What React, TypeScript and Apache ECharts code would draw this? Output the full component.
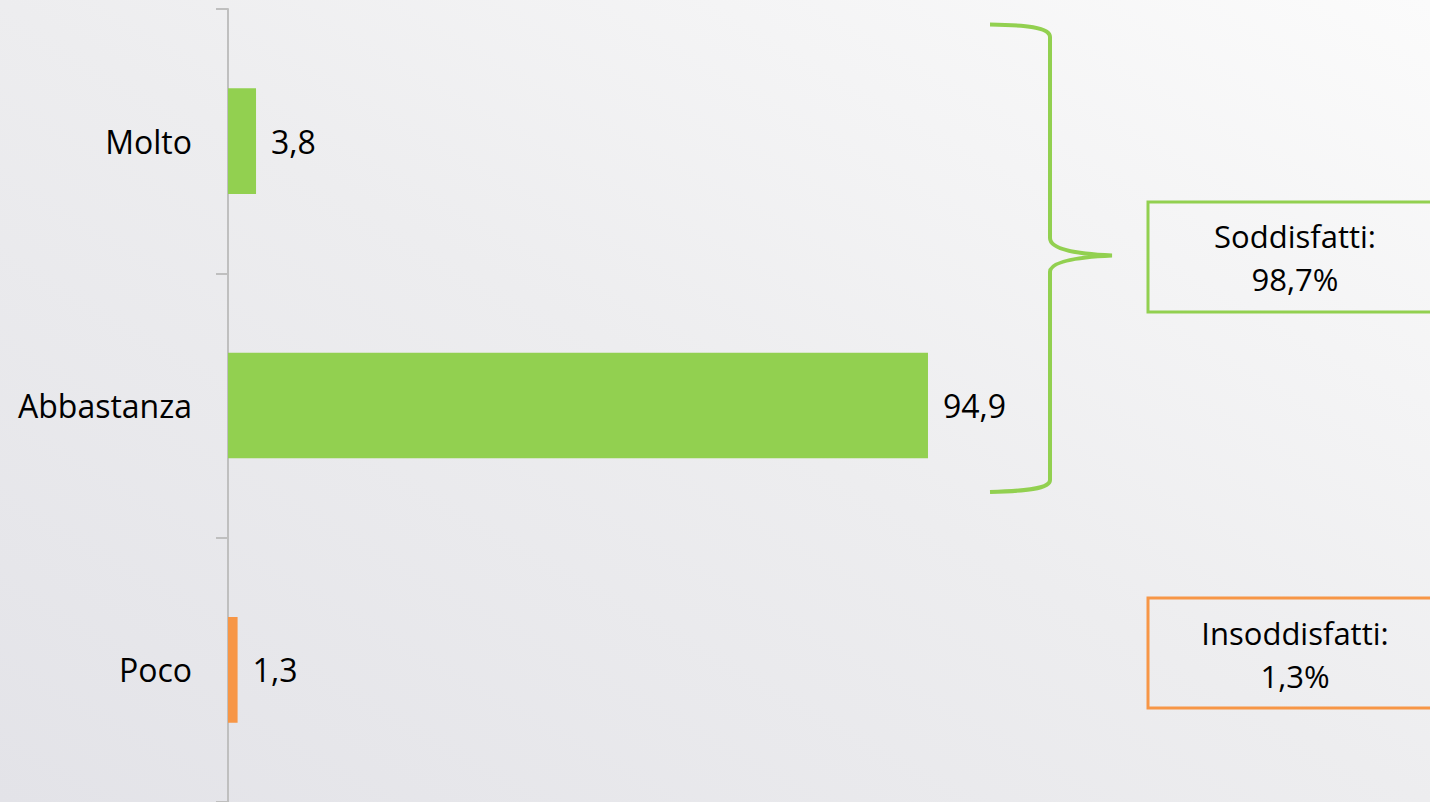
import React, { useEffect, useRef } from "react";
import * as echarts from "echarts";

const categories = ["Molto", "Abbastanza", "Poco"];
const values = [3.8, 94.9, 1.3];
const barColors = ["#92D050", "#92D050", "#F79646"];
const satisfiedLabel = "Soddisfatti:\n98,7%";
const unsatisfiedLabel = "Insoddisfatti:\n1,3%";

const FONT = "'Open Sans', 'Noto Sans', sans-serif";

echarts.graphic.registerShape(
  "brace",
  echarts.graphic.extendPath(
    "M990,24.5 C1025,25 1050,27 1050,37 L1050,238 C1050,250 1080,254 1112,255.5 C1080,257 1050,261 1050,272 L1050,480 C1050,489 1025,491 990,492",
    {}
  )
);

export default function App() {
  const ref = useRef<HTMLDivElement>(null);
  useEffect(() => {
    if (!ref.current) return;
    const chart = echarts.init(ref.current, null, { renderer: "svg" });
    chart.setOption({
      animation: false,
      backgroundColor: {
        type: "linear",
        x: 0,
        y: 1,
        x2: 1,
        y2: 0,
        colorStops: [
          { offset: 0, color: "#E3E3E8" },
          { offset: 0.5, color: "#EDEDEF" },
          { offset: 1, color: "#FBFBFB" },
        ],
      },
      grid: { left: 228, top: 9, height: 795, right: 464.4, containLabel: false },
      xAxis: {
        type: "value",
        min: 0,
        max: 100,
        show: false,
        splitLine: { show: false },
      },
      yAxis: {
        type: "category",
        inverse: true,
        data: categories,
        axisLine: { show: true, lineStyle: { color: "#BFBFBF", width: 2 } },
        axisTick: { show: true, length: 12, lineStyle: { color: "#BFBFBF", width: 2 } },
        axisLabel: { margin: 36, fontSize: 32, color: "#000", fontFamily: FONT },
        splitLine: { show: false },
      },
      series: [
        {
          type: "bar",
          barWidth: "40%",
          data: values.map((v, i) => ({ value: v, itemStyle: { color: barColors[i] } })),
          label: {
            show: true,
            position: "right",
            distance: 15,
            fontSize: 32,
            color: "#000",
            fontFamily: FONT,
            formatter: (p: any) => String(p.value).replace(".", ","),
          },
        },
      ],
      graphic: [
        {
          type: "brace",
          x: 0,
          y: 0,
          style: { fill: "none", stroke: "#92D050", lineWidth: 4 },
        },
        {
          type: "rect",
          shape: { x: 1148, y: 202, width: 300, height: 110 },
          style: { fill: "none", stroke: "#92D050", lineWidth: 3 },
        },
        {
          type: "text",
          x: 1295,
          y: 257,
          style: {
            text: satisfiedLabel,
            fontSize: 31,
            fontFamily: FONT,
            lineHeight: 43,
            fill: "#000",
            align: "center",
            verticalAlign: "middle",
          },
        },
        {
          type: "rect",
          shape: { x: 1148, y: 598, width: 300, height: 110 },
          style: { fill: "none", stroke: "#F79646", lineWidth: 3 },
        },
        {
          type: "text",
          x: 1295,
          y: 654,
          style: {
            text: unsatisfiedLabel,
            fontSize: 31,
            fontFamily: FONT,
            lineHeight: 43,
            fill: "#000",
            align: "center",
            verticalAlign: "middle",
          },
        },
      ],
    });
    return () => chart.dispose();
  }, []);
  return (
    <div
      ref={ref}
      style={{ position: "absolute", left: 0, top: 0, width: 1430, height: 802 }}
    />
  );
}
